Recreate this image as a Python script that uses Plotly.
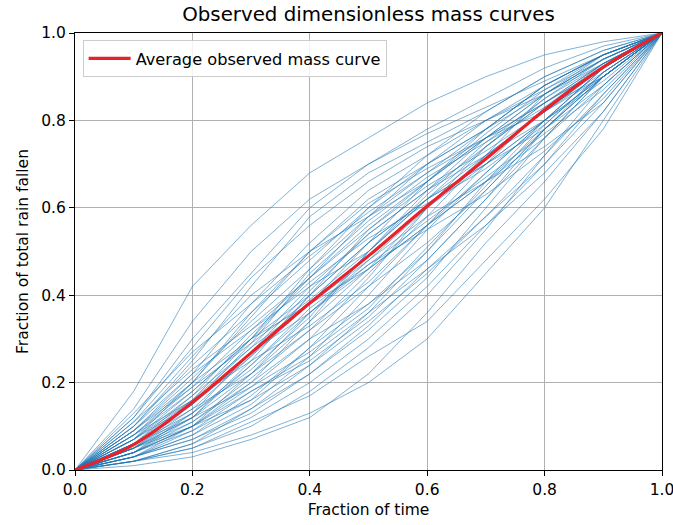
import plotly.graph_objects as go

# fraction of time sample points
time_frac = [0.0, 0.1, 0.2, 0.3, 0.4, 0.5, 0.6, 0.7, 0.8, 0.9, 1.0]

# observed dimensionless mass curves (fraction of total rain fallen)
curve_01 = [0, .12, .30, .45, .60, .70, .78, .85, .92, .97, 1]
curve_02 = [0, .02, .05, .10, .18, .28, .40, .55, .72, .88, 1]
curve_03 = [0, .08, .20, .35, .50, .62, .70, .78, .88, .95, 1]
curve_04 = [0, .04, .10, .18, .25, .35, .48, .62, .78, .90, 1]
curve_05 = [0, .10, .25, .42, .58, .68, .75, .82, .90, .96, 1]
curve_06 = [0, .03, .08, .15, .26, .40, .55, .68, .80, .92, 1]
curve_07 = [0, .06, .14, .22, .32, .45, .58, .72, .86, .95, 1]
curve_08 = [0, .05, .12, .25, .40, .55, .65, .73, .82, .92, 1]
curve_09 = [0, .09, .22, .38, .52, .64, .72, .80, .86, .93, 1]
curve_10 = [0, .02, .04, .08, .13, .20, .30, .45, .60, .80, 1]
curve_11 = [0, .07, .16, .28, .38, .48, .60, .70, .80, .90, 1]
curve_12 = [0, .04, .09, .16, .28, .42, .56, .66, .76, .88, 1]
curve_13 = [0, .18, .42, .56, .68, .76, .84, .90, .95, .98, 1]
curve_14 = [0, .05, .11, .20, .30, .38, .48, .62, .76, .90, 1]
curve_15 = [0, .08, .18, .30, .44, .58, .70, .80, .88, .95, 1]
curve_16 = [0, .03, .07, .14, .22, .33, .46, .58, .72, .86, 1]
curve_17 = [0, .06, .15, .27, .36, .46, .56, .68, .80, .92, 1]
curve_18 = [0, .10, .22, .32, .42, .50, .62, .74, .85, .94, 1]
curve_19 = [0, .04, .10, .20, .34, .50, .64, .76, .86, .94, 1]
curve_20 = [0, .07, .18, .30, .40, .52, .62, .70, .78, .88, 1]
curve_21 = [0, .02, .06, .12, .20, .30, .42, .56, .70, .86, 1]
curve_22 = [0, .11, .26, .40, .50, .58, .66, .76, .86, .94, 1]
curve_23 = [0, .05, .13, .24, .36, .48, .58, .66, .74, .84, 1]
curve_24 = [0, .06, .16, .30, .46, .60, .72, .82, .90, .96, 1]
curve_25 = [0, .03, .08, .17, .28, .38, .50, .64, .78, .90, 1]
curve_26 = [0, .09, .20, .30, .38, .46, .56, .66, .78, .90, 1]
curve_27 = [0, .05, .14, .26, .38, .52, .66, .78, .88, .95, 1]
curve_28 = [0, .04, .10, .19, .30, .44, .60, .74, .84, .93, 1]
curve_29 = [0, .12, .28, .44, .56, .66, .74, .80, .87, .94, 1]
curve_30 = [0, .03, .09, .18, .26, .36, .46, .56, .68, .82, 1]
curve_31 = [0, .07, .17, .28, .42, .54, .64, .74, .84, .93, 1]
curve_32 = [0, .05, .12, .22, .34, .46, .60, .72, .82, .91, 1]
curve_33 = [0, .08, .19, .32, .44, .56, .66, .76, .84, .92, 1]
curve_34 = [0, .02, .06, .14, .24, .36, .50, .66, .80, .92, 1]
curve_35 = [0, .06, .13, .23, .35, .50, .62, .72, .82, .92, 1]
curve_36 = [0, .10, .24, .36, .48, .60, .70, .78, .86, .94, 1]
curve_37 = [0, .04, .11, .21, .32, .42, .52, .64, .78, .91, 1]
curve_38 = [0, .07, .15, .26, .40, .52, .62, .70, .80, .90, 1]
curve_39 = [0, .03, .07, .13, .22, .32, .44, .60, .76, .90, 1]
curve_40 = [0, .09, .21, .34, .46, .58, .68, .78, .88, .95, 1]
curve_41 = [0, .14, .34, .50, .62, .70, .77, .83, .89, .95, 1]
curve_42 = [0, .01, .03, .07, .12, .22, .36, .52, .66, .82, 1]
curve_43 = [0, .06, .17, .31, .43, .53, .61, .69, .79, .91, 1]
curve_44 = [0, .04, .12, .24, .37, .47, .55, .63, .73, .85, 1]
curve_45 = [0, .08, .16, .25, .33, .43, .56, .70, .83, .93, 1]
curve_46 = [0, .05, .15, .29, .45, .57, .67, .75, .83, .90, 1]
curve_47 = [0, .03, .10, .22, .36, .47, .57, .67, .77, .87, 1]
curve_48 = [0, .11, .23, .33, .44, .55, .66, .77, .87, .95, 1]
curve_49 = [0, .02, .05, .11, .17, .26, .34, .48, .62, .78, 1]
curve_50 = [0, .09, .19, .29, .39, .50, .63, .75, .85, .93, 1]
curve_51 = [0, .05, .10, .16, .24, .34, .45, .58, .70, .84, 1]
curve_52 = [0, .07, .20, .36, .50, .61, .69, .76, .82, .90, 1]
curve_53 = [0, .04, .13, .27, .41, .54, .64, .72, .80, .89, 1]
curve_54 = [0, .06, .12, .19, .27, .37, .51, .65, .79, .91, 1]
curve_55 = [0, .13, .27, .38, .49, .59, .68, .76, .84, .92, 1]

observed_curves = [
    curve_01, curve_02, curve_03, curve_04, curve_05, curve_06, curve_07, curve_08,
    curve_09, curve_10, curve_11, curve_12, curve_13, curve_14, curve_15, curve_16,
    curve_17, curve_18, curve_19, curve_20, curve_21, curve_22, curve_23, curve_24,
    curve_25, curve_26, curve_27, curve_28, curve_29, curve_30, curve_31, curve_32,
    curve_33, curve_34, curve_35, curve_36, curve_37, curve_38, curve_39, curve_40,
    curve_41, curve_42, curve_43, curve_44, curve_45, curve_46, curve_47, curve_48,
    curve_49, curve_50, curve_51, curve_52, curve_53, curve_54, curve_55,
]

# average observed mass curve
average_curve = [0, .058, .155, .268, .382, .49, .604, .712, .824, .922, 1]

tick_vals = [0.0, 0.2, 0.4, 0.6, 0.8, 1.0]
tick_text = ["0.0", "0.2", "0.4", "0.6", "0.8", "1.0"]

fig = go.Figure()
for c in observed_curves:
    fig.add_trace(go.Scatter(
        x=time_frac, y=c, mode="lines",
        line=dict(color="#1f77b4", width=0.7),
        opacity=0.8, showlegend=False, hoverinfo="skip",
    ))

fig.add_trace(go.Scatter(
    x=time_frac, y=average_curve, mode="lines",
    line=dict(color="#e8222a", width=3.2, shape="spline"),
    name="Average observed mass curve",
))

axis_common = dict(
    range=[0, 1], tickvals=tick_vals, ticktext=tick_text,
    showgrid=True, gridcolor="#b0b0b0", gridwidth=1,
    showline=True, linecolor="black", linewidth=1.2, mirror=True,
    ticks="outside", ticklen=5, tickcolor="black", tickwidth=1,
    tickfont=dict(family="DejaVu Sans", size=15.5, color="black"),
    zeroline=False, automargin=False, ticklabeloverflow="allow",
)

fig.update_layout(
    width=673, height=525,
    margin=dict(l=75, r=11, t=33, b=55),
    paper_bgcolor="white", plot_bgcolor="white",
    font=dict(family="DejaVu Sans", color="black"),
    title=dict(text="Observed dimensionless mass curves",
               x=0.5, xref="paper", xanchor="center",
               y=1 - 14 / 525, yref="container", yanchor="middle",
               font=dict(family="DejaVu Sans", size=19.8, color="black")),
    xaxis=dict(axis_common, title=dict(text="Fraction of time", standoff=6,
                                       font=dict(family="DejaVu Sans", size=15.5))),
    yaxis=dict(axis_common, title=dict(text="Fraction of total rain fallen", standoff=8,
                                       font=dict(family="DejaVu Sans", size=15.5))),
    legend=dict(x=0.013, y=0.983, xanchor="left", yanchor="top",
                bgcolor="rgba(255,255,255,0.85)", bordercolor="#cccccc", borderwidth=1,
                font=dict(family="DejaVu Sans", size=16.2, color="black"),
                itemwidth=42),
    showlegend=True,
)

fig.write_html("out.html", config={"displayModeBar": False},
               post_script="document.body.style.margin='0';")
